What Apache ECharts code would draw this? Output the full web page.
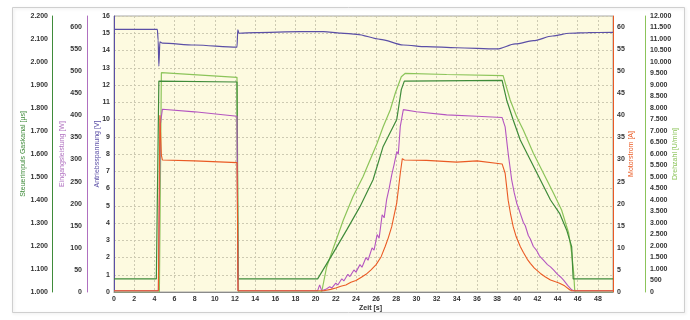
<!DOCTYPE html>
<html>
<head>
<meta charset="utf-8">
<script src="https://cdn.jsdelivr.net/npm/echarts@6/dist/echarts.min.js"></script>
<style>
  html, body { margin: 0; padding: 0; background: #fff; }
  #chart { width: 690px; height: 320px; }
</style>
</head>
<body>
<div id="chart"></div>
<script>
// Zeitachse
var xTicks = [0, 49.5, 2];

// Antriebsspannung [V]
var voltT = [0, 4.3, 4.38, 4.45, 4.55, 4.8, 8, 12.2, 12.28, 12.4, 14, 18.5, 20.8, 22.5, 24.1, 26.4, 28.7, 31, 34, 38, 39.8, 41.6, 43.5, 45.2, 47, 49.5];
var voltV = [15.23, 15.23, 14.6, 13.1, 14.5, 14.43, 14.32, 14.19, 15.19, 15.0, 15.04, 15.09, 15.09, 15.01, 14.94, 14.65, 14.32, 14.22, 14.16, 14.09, 14.38, 14.57, 14.84, 15.0, 15.04, 15.05];

// Eingangsleistung [W]
var powerT = [0, 4.4, 4.6, 4.8, 8, 12.2, 12.3, 20.2, 20.4, 20.6, 21.0, 21.4, 21.6, 22.0, 22.2, 22.6, 22.8, 23.2, 23.4, 23.8, 24.0, 24.4, 24.6, 25.0, 25.2, 25.6, 25.8, 26.1, 26.3, 26.6, 26.8, 27.05, 27.3, 27.55, 27.8, 28.05, 28.2, 28.4, 28.7,
  30, 33, 36, 38.5, 38.8, 39.1, 39.3, 39.45, 39.7, 39.95, 40.2, 40.6, 40.8, 41.1, 41.3, 41.6, 41.9, 42.2, 42.6, 43.0, 43.3, 43.6, 44.0, 44.3, 44.6, 45.0, 45.4, 45.6, 49.5];
var powerW = [3, 3, 380, 414, 408, 398, 3, 3, 16, 3, 6, 12, 9, 20, 16, 30, 25, 40, 35, 50, 45, 62, 56, 78, 72, 100, 95, 130, 122, 175, 168, 210, 235, 265, 290, 318, 312, 375, 413,
  408, 401, 398, 395, 374, 314, 280, 254, 225, 201, 185, 158, 150, 128, 120, 103, 95, 82, 72, 62, 57, 50, 40, 34, 27, 15, 5, 3, 3];

// Motorstrom [A]
var currT = [0, 4.4, 4.55, 4.7, 4.8, 8, 12.2, 12.25, 12.3, 20.8, 21.5, 22.0, 22.5, 23.0, 23.5, 24.0, 24.5, 25.0, 25.5, 26.0, 26.5, 26.9, 27.2, 27.55, 27.8, 28.05, 28.2, 28.4, 28.6, 28.8,
  31, 34, 36, 38.5, 38.8, 39.1, 39.35, 39.6, 39.9, 40.3, 40.6, 41.0, 41.3, 41.7, 42.3, 42.8, 43.3, 43.8, 44.2, 44.7, 45.2, 45.4, 49.5];
var currA = [0.3, 0.3, 40, 31, 29.9, 29.7, 29.3, 17, 0.3, 0.3, 0.6, 0.9, 1.3, 1.6, 2.2, 2.6, 3.3, 4.0, 5.0, 6.2, 8.0, 10.3, 12.2, 14.8, 17.5, 20.2, 20.0, 26.9, 30.2, 29.9,
  29.8, 29.4, 29.7, 29.0, 26.9, 20.8, 17.5, 14.8, 12.5, 10.3, 9.0, 7.4, 6.5, 5.4, 4.2, 3.4, 2.7, 2.3, 2.0, 1.4, 0.5, 0.3, 0.3];

// Drehzahl [U/min]
var rpmT = [0, 4.5, 4.7, 12.2, 12.35, 20.6, 21.1, 21.8, 22.75, 23.7, 24.7, 25.4, 26.1, 26.7, 27.4, 27.9, 28.5, 28.9, 33, 38.6, 39.3, 39.95, 40.6, 41.6, 42.6, 43.6, 44.4, 45.1, 45.4, 45.6, 45.7, 45.75, 49.5];
var rpmV = [0, 0, 9535, 9335, 0, 0, 1100, 1970, 3130, 4144, 5013, 5739, 6466, 7187, 7913, 8640, 9361, 9509, 9457, 9405, 8348, 7622, 7044, 6031, 5161, 4291, 3565, 2565, 1696, 826, 87, 0, 0];

// Steuerimpuls Gaskanal [µs]
var pulseT = [0, 4.2, 4.45, 12.2, 12.3, 20.2, 20.27, 21.75, 23.1, 24.4, 25.7, 26.7, 28.05, 28.5, 28.8, 38.5, 38.95, 39.6, 40.3, 41.3, 42.3, 43.3, 44.2, 44.9, 45.4, 45.55, 49.5];
var pulseUs = [1057, 1057, 1917, 1913, 1057, 1057, 1057, 1170, 1271, 1371, 1488, 1633, 1750, 1880, 1917, 1920, 1835, 1748, 1661, 1574, 1487, 1400, 1342, 1270, 1197, 1057, 1057];

var cVolt = '#5b4fa6';
var cPower = '#b455c0';
var cCurr = '#ea5a24';
var cRpm = '#8cc45a';
var cPulse = '#3f8b3a';

function pairs(t, v) {
  var out = [];
  for (var i = 0; i < t.length; i++) out.push([t[i], v[i]]);
  return out;
}

// Tausenderpunkt
function dePunkt(v) {
  var s = String(Math.round(v));
  return s.replace(/\B(?=(\d{3})+(?!\d))/g, '.');
}

function yAx(o) {
  return {
    type: 'value',
    min: o.min, max: o.max, interval: o.interval,
    position: o.position, offset: o.offset,
    name: o.name, nameLocation: 'middle', nameGap: o.nameGap, nameRotate: 90,
    nameMoveOverlap: false,
    nameTextStyle: { color: o.color, fontSize: 7, fontFamily: 'Liberation Sans' },
    axisLine: { show: true, onZero: false, lineStyle: { color: o.color, width: 1 } },
    axisTick: { show: false },
    axisLabel: {
      show: true, margin: o.margin || 4, fontSize: 7, fontWeight: 'bold', color: '#333', fontFamily: 'Liberation Sans',
      showMaxLabel: o.showMax !== false, showMinLabel: true, hideOverlap: false,
      formatter: o.formatter
    },
    splitLine: o.split ? { show: true, lineStyle: { color: '#cdcab2', type: [2, 2], width: 1 } } : { show: false }
  };
}

var chart = echarts.init(document.getElementById('chart'));

var option = {
  backgroundColor: '#ffffff',
  animation: false,
  graphic: [{
    type: 'rect', shape: { x: 12.5, y: 7.5, width: 672, height: 305 },
    style: { fill: 'none', stroke: '#cfcfcf', lineWidth: 1, shadowColor: 'rgba(0,0,0,0.12)', shadowBlur: 3, shadowOffsetX: 1, shadowOffsetY: 1 },
    z: -10
  }],
  grid: {
    left: 114, right: 77, top: 16, bottom: 28,
    show: true, backgroundColor: '#fdfae0', borderColor: '#a8a8a8', borderWidth: 1
  },
  xAxis: {
    type: 'value', min: xTicks[0], max: xTicks[1], interval: xTicks[2],
    name: 'Zeit [s]', nameLocation: 'middle', nameGap: 13, nameMoveOverlap: false,
    nameTextStyle: { color: '#333', fontSize: 7, fontWeight: 'bold', fontFamily: 'Liberation Sans', padding: [0, 0, 0, 14] },
    axisLine: { show: true, onZero: false, lineStyle: { color: '#8a8a8a' } },
    axisTick: { show: false },
    axisLabel: { margin: 4, fontSize: 7, fontWeight: 'bold', color: '#333', fontFamily: 'Liberation Sans', showMaxLabel: false },
    splitLine: { show: true, lineStyle: { color: '#cdcab2', type: [2, 2], width: 1 } }
  },
  yAxis: [
    yAx({ min: 0, max: 16, interval: 1, position: 'left', offset: 0, name: 'Antriebsspannung [V]', nameGap: 13, color: cVolt, split: true }),
    yAx({ min: 0, max: 625, interval: 50, position: 'left', offset: 27, name: 'Eingangsleistung [W]', nameGap: 21, color: '#b070c0', showMax: false, margin: 5 }),
    yAx({ min: 1000, max: 2200, interval: 100, position: 'left', offset: 62, name: 'Steuerimpuls Gaskanal [µs]', nameGap: 25, color: cPulse, formatter: dePunkt }),
    yAx({ min: 0, max: 62.5, interval: 5, position: 'right', offset: 0, name: 'Motorstrom [A]', nameGap: 15, color: cCurr, showMax: false }),
    yAx({ min: 0, max: 12000, interval: 500, position: 'right', offset: 32, name: 'Drehzahl [U/min]', nameGap: 27, color: cRpm, formatter: dePunkt, margin: 5 })
  ],
  series: [
    { name: 'Drehzahl', type: 'line', yAxisIndex: 4, data: pairs(rpmT, rpmV), showSymbol: false, lineStyle: { color: cRpm, width: 1.2 } },
    { name: 'Steuerimpuls', type: 'line', yAxisIndex: 2, data: pairs(pulseT, pulseUs), showSymbol: false, lineStyle: { color: cPulse, width: 1.2 } },
    { name: 'Eingangsleistung', type: 'line', yAxisIndex: 1, data: pairs(powerT, powerW), showSymbol: false, lineStyle: { color: cPower, width: 1.1 } },
    { name: 'Motorstrom', type: 'line', yAxisIndex: 3, data: pairs(currT, currA), showSymbol: false, lineStyle: { color: cCurr, width: 1.1 } },
    { name: 'Antriebsspannung', type: 'line', yAxisIndex: 0, data: pairs(voltT, voltV), showSymbol: false, smooth: 0.3, smoothMonotone: 'x', lineStyle: { color: cVolt, width: 1.2 } }
  ]
};

chart.setOption(option);
</script>
</body>
</html>
